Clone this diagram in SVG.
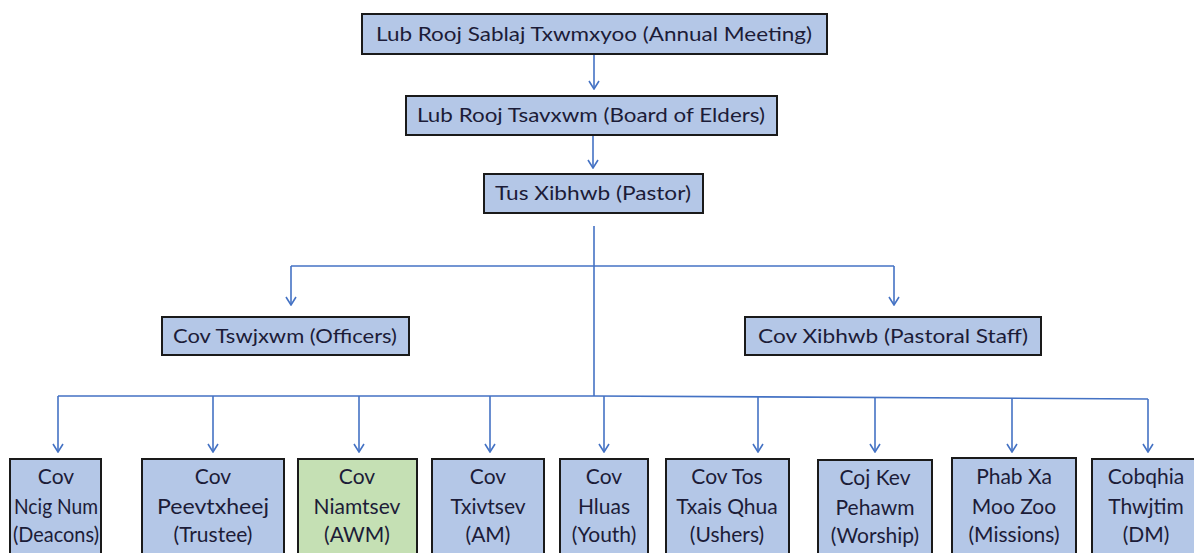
<svg xmlns="http://www.w3.org/2000/svg" width="1194" height="553" viewBox="0 0 1194 553">
<defs>
<style>
.box{fill:#B4C7E7;stroke:#1a1a1a;stroke-width:2}
.green{fill:#C5E0B4}
.t{font-family:Lato,"Open Sans","Liberation Sans",sans-serif;font-size:20px;fill:#1c1c38;text-anchor:middle}
.b{font-size:21px}
.c{fill:none;stroke:#4472C4;stroke-width:1.6}
</style>
<marker id="ar" viewBox="0 0 10 12" refX="9" refY="6" markerWidth="10" markerHeight="12" markerUnits="userSpaceOnUse" orient="auto">
<path d="M1,1 L9,6 L1,11" fill="none" stroke="#4472C4" stroke-width="1.6"/>
</marker>
</defs>
<g id="connectors">
<path class="c" d="M594,54 V89" marker-end="url(#ar)"/>
<path class="c" d="M593,135 V168" marker-end="url(#ar)"/>
<path class="c" d="M594,226 V396"/>
<path class="c" d="M291,266 H894"/>
<path class="c" d="M291,266 V305" marker-end="url(#ar)"/>
<path class="c" d="M894,266 V305" marker-end="url(#ar)"/>
<path class="c" d="M58,396 H594 L1148,399"/>
<path class="c" d="M58,396 V452" marker-end="url(#ar)"/>
<path class="c" d="M213,396 V452" marker-end="url(#ar)"/>
<path class="c" d="M359,396 V452" marker-end="url(#ar)"/>
<path class="c" d="M490,396 V452" marker-end="url(#ar)"/>
<path class="c" d="M604,396 V452" marker-end="url(#ar)"/>
<path class="c" d="M758,397 V452" marker-end="url(#ar)"/>
<path class="c" d="M875,397 V452" marker-end="url(#ar)"/>
<path class="c" d="M1012,398 V452" marker-end="url(#ar)"/>
<path class="c" d="M1148,399 V452" marker-end="url(#ar)"/>
</g>
<g id="annual">
<rect class="box" x="362" y="14" width="465" height="40"/>
<text class="t" x="594" y="41" textLength="436" lengthAdjust="spacingAndGlyphs">Lub Rooj Sablaj Txwmxyoo (Annual Meeting)</text>
</g>
<g id="elders">
<rect class="box" x="406" y="96" width="371" height="39"/>
<text class="t" x="591" y="122" textLength="348" lengthAdjust="spacingAndGlyphs">Lub Rooj Tsavxwm (Board of Elders)</text>
</g>
<g id="pastor">
<rect class="box" x="484" y="174" width="219" height="39"/>
<text class="t" x="593" y="200" textLength="196" lengthAdjust="spacingAndGlyphs">Tus Xibhwb (Pastor)</text>
</g>
<g id="officers">
<rect class="box" x="162" y="317" width="247" height="38"/>
<text class="t" x="285" y="343" textLength="224" lengthAdjust="spacingAndGlyphs">Cov Tswjxwm (Officers)</text>
</g>
<g id="staff">
<rect class="box" x="745" y="317" width="296" height="38"/>
<text class="t" x="893" y="343" textLength="270" lengthAdjust="spacingAndGlyphs">Cov Xibhwb (Pastoral Staff)</text>
</g>
<g id="deacons">
<rect class="box" x="10" y="459" width="91" height="100"/>
<text class="t b" x="56" y="484">Cov</text>
<text class="t b" x="56" y="514" textLength="84" lengthAdjust="spacingAndGlyphs">Ncig Num</text>
<text class="t b" x="56" y="542" textLength="86" lengthAdjust="spacingAndGlyphs">(Deacons)</text>
</g>
<g id="trustee">
<rect class="box" x="142" y="459" width="142" height="100"/>
<text class="t b" x="213" y="484">Cov</text>
<text class="t b" x="213" y="514" textLength="112" lengthAdjust="spacingAndGlyphs">Peevtxheej</text>
<text class="t b" x="213" y="542">(Trustee)</text>
</g>
<g id="awm">
<rect class="box green" x="298" y="459" width="119" height="100"/>
<text class="t b" x="357" y="484">Cov</text>
<text class="t b" x="357" y="514">Niamtsev</text>
<text class="t b" x="357" y="542">(AWM)</text>
</g>
<g id="am">
<rect class="box" x="432" y="459" width="112" height="100"/>
<text class="t b" x="488" y="484">Cov</text>
<text class="t b" x="488" y="514">Txivtsev</text>
<text class="t b" x="488" y="542">(AM)</text>
</g>
<g id="youth">
<rect class="box" x="560" y="459" width="88" height="100"/>
<text class="t b" x="604" y="484">Cov</text>
<text class="t b" x="604" y="514">Hluas</text>
<text class="t b" x="604" y="542">(Youth)</text>
</g>
<g id="ushers">
<rect class="box" x="666" y="459" width="123" height="100"/>
<text class="t b" x="727" y="484">Cov Tos</text>
<text class="t b" x="727" y="514">Txais Qhua</text>
<text class="t b" x="727" y="542">(Ushers)</text>
</g>
<g id="worship">
<rect class="box" x="818" y="460" width="114" height="100"/>
<text class="t b" x="875" y="485">Coj Kev</text>
<text class="t b" x="875" y="515">Pehawm</text>
<text class="t b" x="875" y="543">(Worship)</text>
</g>
<g id="missions">
<rect class="box" x="952" y="458" width="124" height="100"/>
<text class="t b" x="1014" y="484">Phab Xa</text>
<text class="t b" x="1014" y="514">Moo Zoo</text>
<text class="t b" x="1014" y="542">(Missions)</text>
</g>
<g id="dm">
<rect class="box" x="1092" y="459" width="110" height="100"/>
<text class="t b" x="1146" y="484">Cobqhia</text>
<text class="t b" x="1146" y="514">Thwjtim</text>
<text class="t b" x="1146" y="542">(DM)</text>
</g>
</svg>
